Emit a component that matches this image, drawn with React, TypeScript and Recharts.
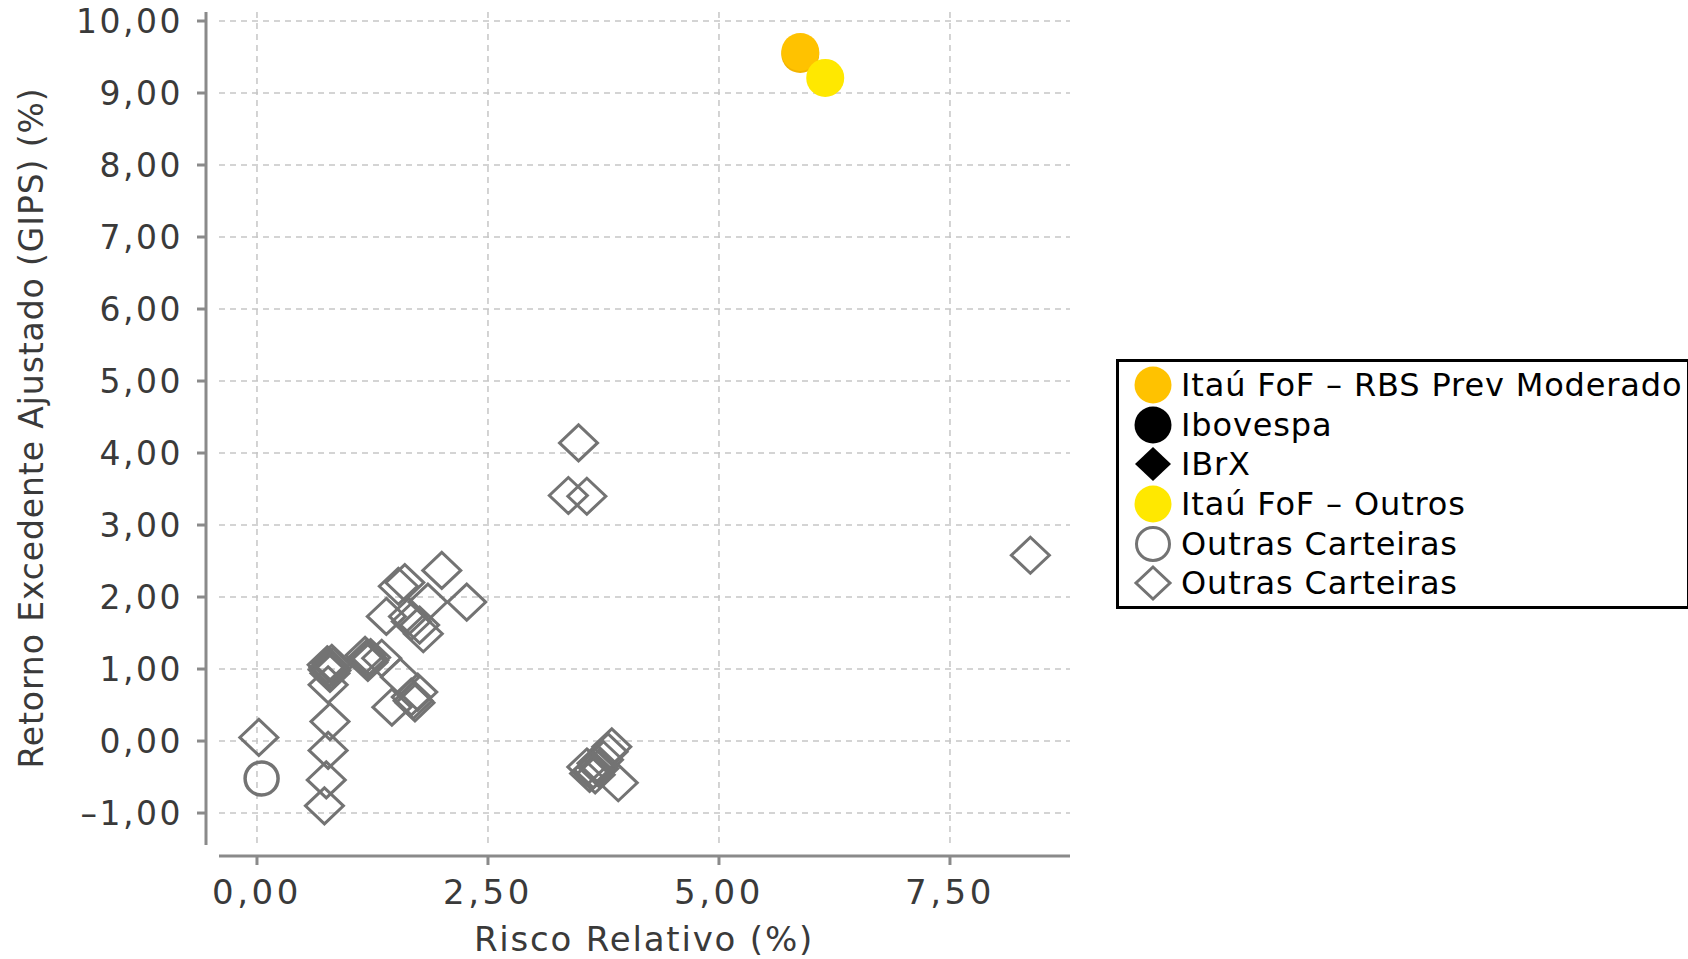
import React from "react";
import {
  ScatterChart,
  Scatter,
  XAxis,
  YAxis,
  CartesianGrid,
  Legend,
} from "recharts";

type Pt = { x: number; y: number };

// Risco Relativo (%) x Retorno Excedente Ajustado (GIPS) (%)
const rbsModerado: Pt[] = [{ x: 5.88, y: 9.57 }];
const ibovespa: Pt[] = [];
const ibrx: Pt[] = [];
const fofOutros: Pt[] = [{ x: 6.15, y: 9.21 }];
const outrasCirculo: Pt[] = [{ x: 0.05, y: -0.52 }];
const outrasLosango: Pt[] = [
  { x: 0.02, y: 0.05 },
  { x: 0.73, y: -0.9 },
  { x: 0.75, y: -0.54 },
  { x: 0.77, y: -0.13 },
  { x: 0.79, y: 0.27 },
  { x: 0.77, y: 0.78 },
  { x: 0.76, y: 1.06 },
  { x: 0.78, y: 1.02 },
  { x: 0.8, y: 0.98 },
  { x: 0.82, y: 1.04 },
  { x: 0.79, y: 0.94 },
  { x: 0.77, y: 0.99 },
  { x: 0.81, y: 1.08 },
  { x: 1.17, y: 1.19 },
  { x: 1.19, y: 1.15 },
  { x: 1.21, y: 1.12 },
  { x: 1.23, y: 1.16 },
  { x: 1.2, y: 1.09 },
  { x: 1.35, y: 1.15 },
  { x: 1.55, y: 0.89 },
  { x: 1.74, y: 0.68 },
  { x: 1.67, y: 0.61 },
  { x: 1.71, y: 0.53 },
  { x: 1.46, y: 0.47 },
  { x: 1.69, y: 0.56 },
  { x: 1.4, y: 1.73 },
  { x: 1.64, y: 1.73 },
  { x: 1.67, y: 1.66 },
  { x: 1.76, y: 1.61 },
  { x: 1.8, y: 1.49 },
  { x: 1.53, y: 2.15 },
  { x: 1.6, y: 2.2 },
  { x: 1.85, y: 1.93 },
  { x: 2.27, y: 1.93 },
  { x: 2.0, y: 2.37 },
  { x: 3.48, y: 4.14 },
  { x: 3.37, y: 3.41 },
  { x: 3.57, y: 3.4 },
  { x: 3.84, y: -0.08 },
  { x: 3.8, y: -0.15 },
  { x: 3.75, y: -0.26 },
  { x: 3.68, y: -0.31 },
  { x: 3.57, y: -0.36 },
  { x: 3.64, y: -0.4 },
  { x: 3.6, y: -0.45 },
  { x: 3.66, y: -0.47 },
  { x: 3.91, y: -0.58 },
  { x: 3.7, y: -0.38 },
  { x: 8.37, y: 2.58 },
];

const xTicks = [0, 2.5, 5, 7.5];
const yTicks = [-1, 0, 1, 2, 3, 4, 5, 6, 7, 8, 9, 10];

const ORANGE = "#FFC200";
const YELLOW = "#FFE800";
const GRAY = "#737373";
const AXIS = "#8a8a8a";
const TEXT = "#3a3a3a";
const FONT = "'DejaVu Sans', Verdana, sans-serif";

const fmt = (v: number) => (v < 0 ? "–" : "") + Math.abs(v).toFixed(2).replace(".", ",");

const legendItems = [
  { name: "Itaú FoF – RBS Prev Moderado", kind: "dot", color: ORANGE },
  { name: "Ibovespa", kind: "dot", color: "#000" },
  { name: "IBrX", kind: "diamond", color: "#000" },
  { name: "Itaú FoF – Outros", kind: "dot", color: YELLOW },
  { name: "Outras Carteiras", kind: "ring", color: GRAY },
  { name: "Outras Carteiras", kind: "outline", color: GRAY },
];

const Dot = (color: string, shadow?: string) => (p: any) => (
  <g>
    {shadow && <circle cx={p.cx} cy={p.cy + 2} r={19} fill={shadow} />}
    <circle cx={p.cx} cy={p.cy} r={19} fill={color} />
  </g>
);

const Ring = (p: any) => (
  <circle cx={p.cx} cy={p.cy} r={16.5} fill="none" stroke={GRAY} strokeWidth={3.5} />
);

const Diamond = (p: any) => (
  <path
    d={`M${p.cx},${p.cy - 18} L${p.cx + 19},${p.cy} L${p.cx},${p.cy + 18} L${p.cx - 19},${p.cy} Z`}
    fill="none"
    stroke={GRAY}
    strokeWidth={3}
  />
);

const LegendMarker = ({ kind, color }: { kind: string; color: string }) => (
  <svg width={40} height={40} style={{ flex: "none" }}>
    {kind === "dot" && <circle cx={20} cy={20} r={18.5} fill={color} />}
    {kind === "ring" && <circle cx={20} cy={20} r={16.5} fill="none" stroke={color} strokeWidth={3} />}
    {kind === "diamond" && <path d="M20,3 L38,20 L20,37 L2,20 Z" fill={color} />}
    {kind === "outline" && (
      <path d="M20,4 L37,20 L20,36 L3,20 Z" fill="none" stroke={color} strokeWidth={3} />
    )}
  </svg>
);

const LegendBox = () => (
  <div
    style={{
      border: "3px solid #000",
      width: 574,
      height: 250,
      boxSizing: "border-box",
      padding: "3px 0 0 14px",
      fontFamily: FONT,
      fontSize: 32,
      letterSpacing: 0.85,
      color: "#000",
      background: "#fff",
    }}
  >
    {legendItems.map((it, i) => (
      <div key={i} style={{ display: "flex", alignItems: "center", height: 39.7, gap: 8 }}>
        <LegendMarker kind={it.kind} color={it.color} />
        <span style={{ whiteSpace: "nowrap" }}>{it.name}</span>
      </div>
    ))}
  </div>
);

const YTick = (p: any) => (
  <text x={183} y={p.y} dy={12} textAnchor="end" fill={TEXT} fontFamily={FONT} fontSize={33} letterSpacing={2.5}>
    {fmt(p.payload.value)}
  </text>
);

const XTick = (p: any) => (
  <text x={p.x} y={904} textAnchor="middle" fill={TEXT} fontFamily={FONT} fontSize={34} letterSpacing={3.5}>
    {fmt(p.payload.value)}
  </text>
);

export default function App() {
  return (
    <div style={{ position: "absolute", left: 0, top: 0, width: 1688, height: 959, background: "#fff" }}>
      <ScatterChart width={1688} height={959} margin={{ top: 12, right: 618, bottom: 0, left: 0 }}>
        <CartesianGrid stroke="#c6c6c6" strokeWidth={1.5} strokeDasharray="6 5" syncWithTicks />
        <XAxis
          type="number"
          dataKey="x"
          domain={[-0.411, 8.799]}
          ticks={xTicks}
          height={114}
          tickSize={9}
          axisLine={{ stroke: AXIS, strokeWidth: 3, transform: "translate(0,11)" }}
          tickLine={{ stroke: AXIS, strokeWidth: 3, transform: "translate(0,11)" }}
          tick={XTick}
          allowDataOverflow
          label={{
            content: () => (
              <text x={644} y={951} textAnchor="middle" fill={TEXT} fontFamily={FONT} fontSize={34} letterSpacing={1.8}>
                Risco Relativo (%)
              </text>
            ),
          }}
        />
        <YAxis
          type="number"
          dataKey="y"
          domain={[-1.444, 10.125]}
          ticks={yTicks}
          width={219}
          tickSize={9}
          axisLine={{ stroke: AXIS, strokeWidth: 3, transform: "translate(-13,0)" }}
          tickLine={{ stroke: AXIS, strokeWidth: 3, transform: "translate(-13,0)" }}
          tick={YTick}
          allowDataOverflow
          label={{
            content: () => (
              <text
                transform="translate(43,428) rotate(-90)"
                textAnchor="middle"
                fill={TEXT}
                fontFamily={FONT}
                fontSize={33}
                letterSpacing={0.9}
              >
                Retorno Excedente Ajustado (GIPS) (%)
              </text>
            ),
          }}
        />
        <Legend
          layout="vertical"
          align="center"
          verticalAlign="middle"
          content={() => <LegendBox />}
          wrapperStyle={{ position: "absolute", left: 1116, top: 359, width: 574 }}
        />
        <Scatter name="Outras Carteiras" data={outrasLosango} shape={Diamond} isAnimationActive={false} />
        <Scatter name="Outras Carteiras" data={outrasCirculo} shape={Ring} isAnimationActive={false} />
        <Scatter name="Ibovespa" data={ibovespa} fill="#000" isAnimationActive={false} />
        <Scatter name="IBrX" data={ibrx} fill="#000" isAnimationActive={false} />
        <Scatter name="Itaú FoF – RBS Prev Moderado" data={rbsModerado} shape={Dot(ORANGE, "#F2B400")} isAnimationActive={false} />
        <Scatter name="Itaú FoF – Outros" data={fofOutros} shape={Dot(YELLOW)} isAnimationActive={false} />
      </ScatterChart>
    </div>
  );
}
